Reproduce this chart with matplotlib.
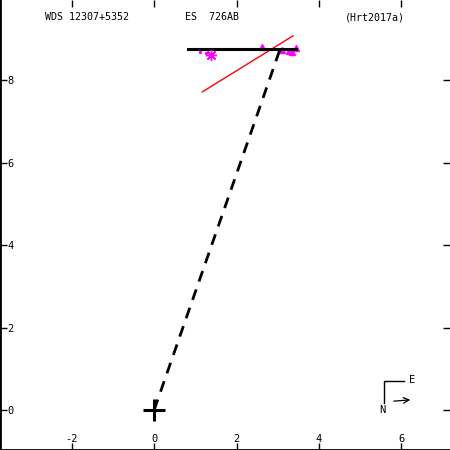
import matplotlib
matplotlib.use("Agg")
import matplotlib.pyplot as plt

plt.rcParams['axes.unicode_minus'] = False
plt.rcParams['font.family'] = ['DejaVu Sans Mono']

# Data (arcsec)
fit_x = [0.83, 3.45]
fit_y = [8.76, 8.76]
node_x = [1.17, 3.37]
node_y = [7.72, 9.08]
peri_x = [0.0, 3.05]
peri_y = [0.0, 8.74]
obs_x = [2.62, 3.10, 3.28, 3.45, 3.35]
obs_y = [8.80, 8.73, 8.71, 8.78, 8.70]
star_x = [1.38]
star_y = [8.62]
dot_x = [1.12, 1.26]
dot_y = [8.70, 8.67]
xticks = [-2, 0, 2, 4, 6]
yticks = [0, 2, 4, 6, 8]

fig = plt.figure(figsize=(4.5, 4.5), dpi=100)
ax = fig.add_axes([0, 0, 1, 1])
ax.set_xlim(-3.74, 7.18)
ax.set_ylim(-0.97, 9.95)

ax.plot(node_x, node_y, color='red', lw=1.0, zorder=2)
ax.plot(obs_x, obs_y, linestyle='none', marker='^', color='magenta', ms=5, zorder=3)
ax.plot(fit_x, fit_y, color='black', lw=2.2, zorder=4)
ax.plot(peri_x, peri_y, color='black', lw=2.0, dashes=(4, 3), zorder=4)
ax.plot(star_x, star_y, linestyle='none', marker=(8, 2, 0), color='magenta', ms=8, mew=1.0, zorder=5)
ax.plot(dot_x, dot_y, linestyle='none', marker='s', color='magenta', ms=1.2, zorder=5)
ax.plot([0], [0], marker='+', color='black', ms=16, mew=2.2, zorder=6)

ax.set_xticks(xticks)
ax.set_yticks(yticks)
ax.set_xticklabels([str(v) for v in xticks])
ax.set_yticklabels([str(v) for v in yticks])
ax.tick_params(axis='both', direction='in', length=5, width=1, labelsize=7.5,
               top=True, right=True)
ax.tick_params(axis='y', pad=-5)
ax.tick_params(axis='x', pad=-4.5)
for lab in ax.get_yticklabels():
    lab.set_horizontalalignment('left')
for lab in ax.get_xticklabels():
    lab.set_verticalalignment('bottom')

for s in ['top', 'right']:
    ax.spines[s].set_visible(False)
for s in ['left', 'bottom']:
    ax.spines[s].set_linewidth(2)

ax.text(0.1, 0.962, 'WDS 12307+5352', transform=ax.transAxes, fontsize=7.2, va='center', ha='left')
ax.text(0.412, 0.962, 'ES  726AB', transform=ax.transAxes, fontsize=7.2, va='center', ha='left')
ax.text(0.766, 0.962, '(Hrt2017a)', transform=ax.transAxes, fontsize=7.2, va='center', ha='left')

# N/E compass
ax.plot([0.853, 0.853, 0.898], [0.104, 0.153, 0.153], color='black', lw=1, transform=ax.transAxes)
ax.text(0.908, 0.155, 'E', transform=ax.transAxes, fontsize=7.5, va='center', ha='left')
ax.text(0.849, 0.088, 'N', transform=ax.transAxes, fontsize=7.5, va='center', ha='center')
ax.annotate('', xy=(0.918, 0.112), xytext=(0.869, 0.108), xycoords='axes fraction',
            arrowprops=dict(arrowstyle='->', color='black', lw=0.9))

fig.savefig('out.png', dpi=100)
